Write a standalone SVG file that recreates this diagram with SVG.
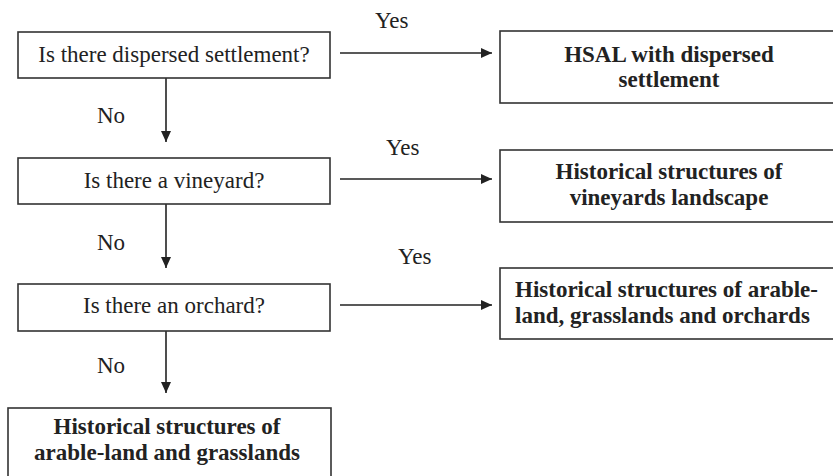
<svg xmlns="http://www.w3.org/2000/svg" width="833" height="476" viewBox="0 0 833 476" font-family="Liberation Serif, Tinos, DejaVu Serif, serif" font-size="23">
<defs>
<marker id="ah" markerWidth="11" markerHeight="10" refX="11" refY="5" orient="auto" markerUnits="userSpaceOnUse">
<path d="M0,0 L11,5 L0,10 Z" fill="#222"/>
</marker>
<style>
.box{fill:#fff;stroke:#333;stroke-width:1.6}
.q{text-anchor:middle;fill:#222}
.l{fill:#222}
.r{font-weight:bold;text-anchor:middle;fill:#222}
.conn{stroke:#222;stroke-width:1.6;fill:none;marker-end:url(#ah)}
</style>
</defs>
<rect width="833" height="476" fill="#fff"/>
<g id="connectors">
<line class="conn" x1="340" y1="53" x2="492" y2="53"/>
<line class="conn" x1="340" y1="179" x2="492" y2="179"/>
<line class="conn" x1="340" y1="305" x2="492" y2="305"/>
<line class="conn" x1="166" y1="78" x2="166" y2="142"/>
<line class="conn" x1="166" y1="204" x2="166" y2="268"/>
<line class="conn" x1="166" y1="331" x2="166" y2="393"/>
<text class="l" x="375" y="28">Yes</text>
<text class="l" x="386" y="155">Yes</text>
<text class="l" x="398" y="264">Yes</text>
<text class="l" x="97" y="123">No</text>
<text class="l" x="97" y="250">No</text>
<text class="l" x="97" y="373">No</text>
</g>
<g id="q1">
<rect class="box" x="18" y="32" width="312" height="46"/>
<text class="q" x="174" y="62">Is there dispersed settlement?</text>
</g>
<g id="q2">
<rect class="box" x="18" y="158" width="312" height="46"/>
<text class="q" x="174" y="188">Is there a vineyard?</text>
</g>
<g id="q3">
<rect class="box" x="18" y="284" width="312" height="47"/>
<text class="q" x="174" y="313">Is there an orchard?</text>
</g>
<g id="r1">
<rect class="box" x="500" y="31" width="340" height="72"/>
<text class="r" x="669" y="62">HSAL with dispersed</text>
<text class="r" x="669" y="87">settlement</text>
</g>
<g id="r2">
<rect class="box" x="500" y="150" width="340" height="72"/>
<text class="r" x="669" y="179">Historical structures of</text>
<text class="r" x="669" y="205">vineyards landscape</text>
</g>
<g id="r3">
<rect class="box" x="500" y="268" width="340" height="71"/>
<text class="r" x="515" y="297" text-anchor="start" style="text-anchor:start">Historical structures of arable-</text>
<text class="r" x="515" y="323" text-anchor="start" style="text-anchor:start">land, grasslands and orchards</text>
</g>
<g id="r4">
<rect class="box" x="8" y="408" width="323" height="80"/>
<text class="r" x="167" y="434">Historical structures of</text>
<text class="r" x="167" y="460">arable-land and grasslands</text>
</g>
</svg>
